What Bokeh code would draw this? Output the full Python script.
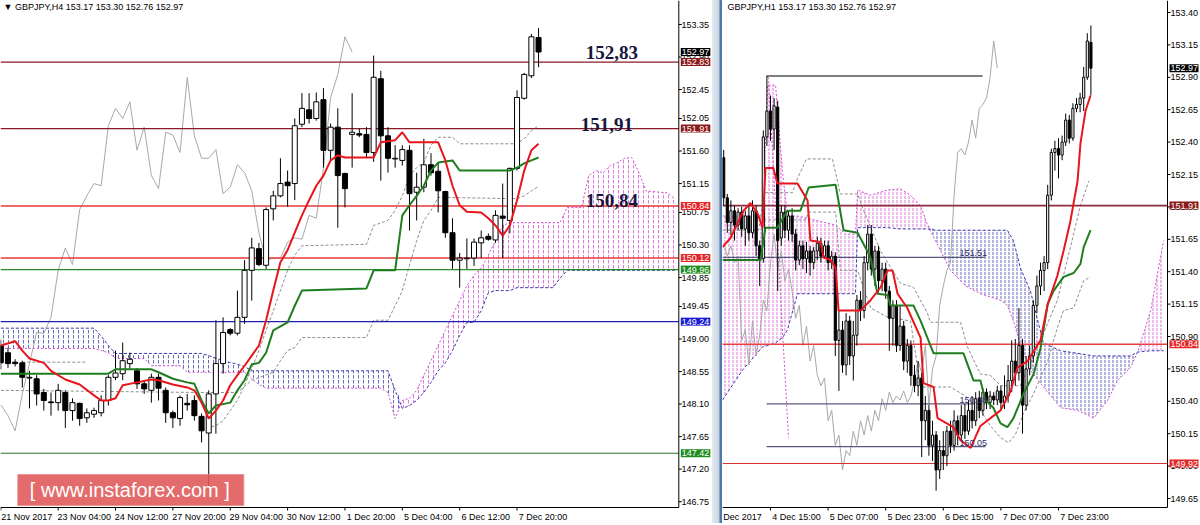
import numpy as np
from bokeh.plotting import figure
from bokeh.models import Range1d, FixedTicker, Label, BoxAnnotation, Div, ColumnDataSource, PrintfTickFormatter
from bokeh.layouts import row
from bokeh.embed import file_html
from bokeh.resources import INLINE

FONT = "Liberation Sans"
NAN = float("nan")

# ===================== LEFT: GBPJPY H4 =====================
h4_title = "\u25BC GBPJPY,H4  153.17 153.30 152.76 152.97"
h4_open = [148.91, 148.81, 148.68, 148.67, 148.46, 148.45, 148.26, 148.13, 148.12, 148.26,
           148.01, 148.11, 147.91, 147.96, 147.98, 148.15, 148.47, 148.52, 148.66, 148.56,
           148.38, 148.29, 148.47, 148.29, 147.98, 147.90, 148.11, 148.15, 147.93, 147.70,
           148.24, 148.66, 149.13, 149.08, 149.30, 149.95, 150.25, 150.02, 150.80, 150.98,
           151.17, 151.15, 151.97, 152.17, 152.05, 152.31, 151.61, 151.93, 151.29, 151.83,
           151.84, 151.83, 151.58, 152.60, 151.81, 151.49, 151.47, 151.61, 151.03, 151.10,
           151.41, 151.32, 151.04, 150.47, 150.09, 150.11, 150.12, 150.33, 150.42, 150.37,
           150.70, 150.64, 151.36, 152.33, 152.64, 153.17]
h4_high = [148.99, 148.88, 148.72, 148.70, 148.56, 148.50, 148.31, 148.26, 148.38, 148.29,
           148.18, 148.12, 148.04, 148.05, 148.22, 148.50, 148.84, 148.95, 148.81, 148.60,
           148.43, 148.52, 148.52, 148.33, 148.01, 148.22, 148.24, 148.22, 147.97, 148.29,
           149.26, 149.30, 149.15, 149.67, 150.09, 150.40, 150.33, 150.82, 151.05, 151.50,
           151.33, 152.05, 152.40, 152.40, 152.41, 152.47, 151.98, 152.19, 151.30, 152.40,
           151.91, 151.93, 152.92, 152.71, 151.93, 151.68, 151.68, 151.68, 151.30, 151.77,
           151.57, 151.44, 151.05, 150.67, 150.19, 150.39, 150.39, 150.50, 150.46, 150.78,
           151.15, 151.37, 152.44, 152.68, 153.22, 153.30]
h4_low = [148.58, 148.60, 148.62, 148.33, 148.04, 148.08, 148.01, 147.94, 148.01, 147.77,
          147.87, 147.80, 147.84, 147.91, 147.93, 148.08, 148.43, 148.43, 148.59, 148.31,
          148.24, 148.12, 148.15, 147.84, 147.77, 147.80, 148.01, 147.87, 147.57, 146.95,
          147.69, 148.52, 149.05, 149.05, 149.21, 149.53, 150.01, 149.97, 150.64, 150.96,
          150.83, 150.92, 151.93, 151.98, 152.02, 151.37, 151.47, 150.54, 150.82, 151.37,
          151.79, 151.51, 151.45, 151.19, 151.30, 151.37, 151.40, 150.50, 150.64, 151.03,
          151.26, 150.75, 150.40, 149.97, 149.71, 149.97, 150.01, 150.12, 150.36, 150.33,
          150.12, 150.46, 151.33, 152.31, 152.61, 152.76]
h4_close = [148.67, 148.66, 148.66, 148.47, 148.47, 148.24, 148.15, 148.12, 148.29, 148.01,
            148.12, 147.90, 147.98, 148.01, 148.15, 148.47, 148.53, 148.70, 148.72, 148.38,
            148.31, 148.47, 148.32, 147.98, 147.91, 148.19, 148.09, 147.94, 147.73, 148.24,
            148.66, 149.09, 149.08, 149.30, 149.95, 150.26, 150.03, 150.79, 150.98, 151.15,
            151.12, 151.95, 152.19, 152.05, 152.28, 151.61, 151.93, 151.26, 151.08, 151.86,
            151.82, 151.58, 152.62, 151.81, 151.50, 151.50, 151.62, 151.01, 151.10, 151.41,
            151.30, 151.05, 150.47, 150.09, 150.12, 150.12, 150.34, 150.40, 150.38, 150.71,
            150.67, 151.36, 152.34, 152.66, 153.18, 152.97]

h4_tenkan_x = [0, 2, 3, 4, 6, 7, 9, 11, 13, 14, 15, 16, 17, 19, 21, 22, 24, 26, 27, 28,
               29, 30, 31, 32, 33, 34, 35, 36, 37, 38, 39, 40, 41, 42, 43, 44, 45, 46, 47, 48,
               52, 53, 55, 56, 57, 61, 62, 63, 64, 65, 67, 68, 69, 70, 71, 72, 73, 74, 75]
h4_tenkan = [148.91, 148.97, 148.84, 148.73, 148.67, 148.56, 148.44, 148.37, 148.22, 148.15,
             148.15, 148.18, 148.36, 148.40, 148.44, 148.43, 148.37, 148.33, 148.29, 148.12,
             147.90, 148.01, 148.15, 148.36, 148.50, 148.63, 148.77, 148.91, 149.26, 149.67,
             150.06, 150.23, 150.47, 150.71, 150.92, 151.12, 151.26, 151.47, 151.54, 151.51,
             151.51, 151.72, 151.75, 151.86, 151.72, 151.72, 151.47, 151.12, 150.85, 150.76,
             150.75, 150.67, 150.57, 150.43, 150.57, 150.92, 151.33, 151.61, 151.70]
h4_kijun_x = [0, 15, 16, 21, 22, 24, 26, 27, 28, 29, 30, 32, 33, 34, 35, 36, 37, 38, 40, 41,
              42, 51, 52, 55, 56, 57, 58, 59, 60, 61, 63, 64, 71, 72, 73, 74, 75]
h4_kijun = [148.52, 148.52, 148.58, 148.58, 148.54, 148.45, 148.40, 148.38, 148.15, 147.97,
            148.08, 148.12, 148.29, 148.43, 148.65, 148.67, 148.81, 149.12, 149.23, 149.46,
            149.67, 149.70, 149.95, 149.95, 150.71, 150.85, 150.98, 151.12, 151.33, 151.44,
            151.47, 151.33, 151.33, 151.37, 151.43, 151.47, 151.51]
h4_cloud_x = [0, 13, 14, 15, 16, 20, 21, 25, 26, 28, 29, 31, 33, 34, 35, 36, 37, 53, 54, 55,
              56, 57, 58, 59, 60, 61, 62, 63, 64, 65, 66, 67, 68, 69, 70, 71, 72, 77, 78, 79,
              81, 82, 83, 84, 85, 86, 87, 88, 89, 90, 93, 94]
h4_span_a = [148.87, 148.87, 148.84, 148.81, 148.73, 148.73, 148.63, 148.63, 148.54, 148.54,
             148.54, 148.54, 148.54, 148.54, 148.45, 148.37, 148.32, 148.32, 148.26, 147.90,
             148.15, 148.18, 148.29, 148.50, 148.70, 148.91, 149.12, 149.33, 149.53, 149.74,
             149.88, 149.98, 150.16, 150.36, 150.57, 150.61, 150.61, 150.61, 150.61, 150.82,
             150.82, 151.26, 151.33, 151.30, 151.40, 151.44, 151.50, 151.51, 151.30, 151.05,
             151.02, 150.94]
h4_span_b = [149.15, 149.15, 149.04, 148.91, 148.80, 148.80, 148.80, 148.80, 148.80, 148.80,
             148.77, 148.70, 148.65, 148.62, 148.56, 148.56, 148.56, 148.56, 148.56, 148.29,
             148.04, 148.08, 148.15, 148.26, 148.40, 148.56, 148.67, 148.84, 149.05, 149.23,
             149.23, 149.39, 149.64, 149.67, 149.67, 149.67, 149.71, 149.71, 149.84, 149.95,
             149.95, 149.95, 149.95, 149.95, 149.95, 149.95, 149.95, 149.95, 149.95, 149.95,
             149.95, 149.95]
h4_g1_x = [3, 12, NAN, 28, 30, 31, 32, 33, 34, 35, 36, 37, 38, 39, 40, 41, 42, 51, 52, 54,
           55, 56, 57, 58, 59, 60, 61, 63, 64, 72, 73, 74, 75]
h4_g1 = [148.68, 148.68, NAN, 147.76, 147.80, 147.87, 148.01, 148.15, 148.36, 148.59,
         148.84, 149.12, 149.39, 149.67, 149.95, 150.16, 150.29, 150.31, 150.57, 150.64,
         150.78, 150.98, 151.26, 151.37, 151.44, 151.68, 151.79, 151.79, 151.70, 151.70,
         151.77, 151.88, 151.95]
h4_g2_x = [0, 28, 33, 35, 38, 39, 40, 41, 42, 51, 52, 54, 55, 56, 57, 58, 59, 60, 61, 72,
           73, 74, 75]
h4_g2 = [148.29, 148.26, 148.26, 148.43, 148.54, 148.70, 148.84, 148.88, 149.02, 149.02,
         149.26, 149.26, 149.46, 149.67, 150.02, 150.36, 150.64, 150.78, 150.96, 150.94,
         150.98, 151.05, 151.11]
h4_levels = [152.83, 151.91, 150.84, 150.12, 149.96, 149.24, 147.42]
h4_tag_prices = [152.97, 152.83, 151.91, 150.84, 150.12, 149.96, 149.24, 147.42]
h4_notes = [152.83, 151.91, 150.84]
h4_price_ticks = [153.35, 152.90, 152.45, 152.05, 151.60, 151.15, 150.75, 150.30, 149.85,
                  149.45, 149.00, 148.55, 148.10, 147.65, 147.20, 146.75]
h4_date_ticks = [0, 8, 16, 24, 32, 40, 48, 56, 64, 72]
h4_date_labels = ["21 Nov 2017", "23 Nov 04:00", "24 Nov 12:00", "27 Nov 20:00", "29 Nov 04:00",
                  "30 Nov 12:00", "1 Dec 20:00", "5 Dec 04:00", "6 Dec 12:00", "7 Dec 20:00"]

# ===================== RIGHT: GBPJPY H1 =====================
h1_title = "GBPJPY,H1  153.17 153.30 152.76 152.97"
h1_open = [152.28, 151.97, 151.78, 151.87, 151.76, 151.86, 151.73, 151.83, 151.70, 151.87,
           151.60, 151.50, 152.44, 152.64, 152.50, 152.67, 151.66, 151.86, 151.72, 151.83,
           151.69, 151.49, 151.60, 151.50, 151.56, 151.47, 151.56, 151.62, 151.52, 151.60,
           151.47, 151.52, 150.87, 150.95, 150.68, 151.02, 150.75, 150.91, 151.18, 151.10,
           151.47, 151.69, 151.42, 151.56, 151.33, 151.42, 151.25, 151.04, 151.14, 150.83,
           150.98, 150.71, 150.83, 150.60, 150.52, 150.58, 150.25, 150.33, 150.06, 150.14,
           149.87, 150.02, 149.98, 150.17, 150.06, 150.25, 150.14, 150.29, 150.17, 150.33,
           150.25, 150.42, 150.33, 150.47, 150.39, 150.44, 150.41, 150.48, 150.39, 150.44,
           150.56, 150.71, 150.62, 150.83, 150.37, 150.65, 150.75, 151.14, 151.29, 151.41,
           151.47, 151.99, 152.32, 152.35, 152.30, 152.40, 152.57, 152.43, 152.66, 152.69,
           152.74, 152.90, 153.17]
h1_high = [152.34, 152.00, 151.95, 151.91, 151.89, 151.90, 151.87, 151.91, 151.95, 151.91,
           151.64, 152.49, 152.91, 152.76, 152.74, 152.72, 151.91, 151.91, 151.87, 151.89,
           151.73, 151.64, 151.64, 151.63, 151.60, 151.59, 151.67, 151.66, 151.64, 151.64,
           151.56, 151.55, 151.10, 151.02, 151.08, 151.06, 151.02, 151.22, 151.25, 151.52,
           151.76, 151.76, 151.60, 151.60, 151.47, 151.47, 151.29, 151.18, 151.18, 151.14,
           151.02, 150.88, 150.87, 150.68, 150.71, 150.62, 150.44, 150.37, 150.25, 150.17,
           150.10, 150.17, 150.21, 150.25, 150.33, 150.29, 150.37, 150.38, 150.41, 150.44,
           150.47, 150.48, 150.50, 150.50, 150.48, 150.47, 150.52, 150.52, 150.60, 150.68,
           150.87, 150.88, 151.12, 150.88, 150.75, 150.83, 151.18, 151.37, 151.47, 151.52,
           152.07, 152.35, 152.41, 152.43, 152.45, 152.62, 152.61, 152.70, 152.74, 152.78,
           152.98, 153.24, 153.30]
h1_low = [151.91, 151.70, 151.68, 151.64, 151.72, 151.67, 151.60, 151.64, 151.66, 151.52,
          151.29, 151.47, 152.37, 152.41, 152.34, 151.25, 151.60, 151.66, 151.64, 151.63,
          151.41, 151.45, 151.42, 151.39, 151.37, 151.42, 151.49, 151.47, 151.50, 151.41,
          151.42, 150.75, 150.48, 150.62, 150.60, 150.68, 150.56, 150.83, 151.02, 151.04,
          151.41, 151.37, 151.29, 151.24, 151.25, 151.19, 150.79, 150.83, 150.78, 150.79,
          150.64, 150.62, 150.52, 150.47, 150.44, 149.97, 150.10, 149.98, 149.94, 149.71,
          149.80, 149.87, 149.90, 150.00, 150.02, 150.06, 150.10, 150.11, 150.14, 150.19,
          150.21, 150.27, 150.29, 150.34, 150.34, 150.37, 150.37, 150.33, 150.34, 150.39,
          150.47, 150.52, 150.56, 150.15, 150.33, 150.60, 150.70, 151.08, 151.22, 151.25,
          151.42, 151.95, 152.18, 152.12, 152.26, 152.37, 152.39, 152.41, 152.63, 152.63,
          152.64, 152.88, 152.76]
h1_close = [151.97, 151.78, 151.87, 151.76, 151.86, 151.73, 151.83, 151.70, 151.87, 151.60,
            151.49, 152.44, 152.64, 152.50, 152.68, 151.64, 151.86, 151.72, 151.83, 151.69,
            151.49, 151.60, 151.50, 151.56, 151.47, 151.56, 151.62, 151.52, 151.60, 151.47,
            151.52, 150.87, 150.95, 150.68, 151.02, 150.75, 150.91, 151.18, 151.10, 151.47,
            151.69, 151.42, 151.56, 151.33, 151.42, 151.25, 151.04, 151.14, 150.83, 150.98,
            150.71, 150.83, 150.60, 150.52, 150.58, 150.25, 150.33, 150.06, 150.14, 149.87,
            150.02, 149.98, 150.17, 150.06, 150.25, 150.14, 150.29, 150.17, 150.33, 150.25,
            150.42, 150.33, 150.47, 150.39, 150.44, 150.41, 150.48, 150.39, 150.44, 150.56,
            150.71, 150.62, 150.83, 150.37, 150.65, 150.75, 151.14, 151.29, 151.41, 151.47,
            151.99, 152.32, 152.35, 152.30, 152.40, 152.57, 152.43, 152.66, 152.69, 152.74,
            152.90, 153.18, 152.97]
h1_tenkan_x = [-0.33, 1.9, 5.5, 7.4, 9.4, 10.8, 11.6, 13.8, 14.9, 20.5, 23.3, 24.1, 26.9, 27.7,
               29.7, 31.1, 31.9, 38.0, 40.8, 43.6, 45.5, 46.9, 48.3, 51.0, 54.7, 55.5, 58.3,
               59.4, 63.8, 65.8, 68.6, 71.3, 76.9, 79.7, 81.6, 84.4, 88.0, 90.0, 92.7, 94.4,
               96.3, 98.3, 99.1, 100.5, 101.9]
h1_tenkan = [151.59, 151.66, 151.87, 151.93, 151.85, 151.74, 152.20, 152.20, 152.08, 152.08,
             151.95, 151.64, 151.63, 151.51, 151.49, 151.43, 151.10, 151.10, 151.18, 151.28,
             151.41, 151.41, 151.23, 151.12, 150.89, 150.54, 150.51, 150.27, 150.20, 150.10,
             150.04, 150.21, 150.33, 150.48, 150.66, 150.71, 150.87, 151.15, 151.37, 151.56,
             151.79, 152.10, 152.39, 152.64, 152.76]
h1_kijun_x = [-0.33, 10.2, 11.6, 14.9, 17.7, 21.3, 23.6, 31.1, 33.3, 37.2, 40.8, 42.7, 45.5,
              46.3, 52.7, 54.7, 56.6, 58.3, 66.6, 69.4, 71.3, 72.7, 74.9, 76.9, 78.8, 80.5,
              83.3, 86.1, 88.0, 90.0, 91.6, 94.4, 97.2, 99.1, 100.0, 101.9]
h1_kijun = [151.49, 151.49, 151.74, 151.74, 151.87, 151.87, 152.05, 152.07, 151.72, 151.70,
            151.51, 151.23, 151.22, 151.14, 151.14, 151.02, 150.89, 150.77, 150.77, 150.56,
            150.56, 150.41, 150.35, 150.23, 150.20, 150.27, 150.46, 150.61, 150.81, 151.15,
            151.25, 151.36, 151.39, 151.46, 151.59, 151.72]
h1_cloud_x = [-0.33, 5.2, 10.8, 12.2, 14.4, 16.3, 17.7, 20.5, 31.1, 33.8, 36.6, 37.2, 40.8,
              45.5, 49.1, 51.9, 54.7, 56.6, 58.8, 63.0, 67.2, 71.3, 76.9, 78.8, 80.5, 82.4,
              85.2, 88.8, 93.6, 98.3, 102.8, 106.7, 109.4, 113.0, 115.0, 118.6, 122.2]
h1_span_a = [151.83, 151.83, 151.83, 152.84, 152.84, 152.18, 151.83, 151.83, 151.76, 151.69,
             151.69, 152.03, 151.99, 152.03, 152.04, 151.99, 151.91, 151.76, 151.64, 151.41,
             151.29, 151.23, 151.18, 151.14, 151.02, 150.83, 150.64, 150.51, 150.35, 150.33,
             150.27, 150.41, 150.56, 150.66, 150.78, 151.10, 151.64]
h1_span_b = [150.41, 150.64, 150.82, 150.83, 150.85, 150.89, 150.95, 151.23, 151.23, 151.23,
             151.23, 151.74, 151.74, 151.74, 151.73, 151.73, 151.73, 151.73, 151.72, 151.72,
             151.72, 151.72, 151.72, 151.72, 151.64, 151.43, 151.25, 150.85, 150.79, 150.77,
             150.75, 150.75, 150.75, 150.75, 150.78, 150.79, 150.79]
h1_g1_x = [-0.33, 9.7, 11.3, 19.1, 20.5, 23.0, 30.2, 32.4, 37.2, 38.6, 43.6, 49.1, 52.7,
           56.6, 57.4, 65.8, 67.7, 71.3, 74.1, 76.9, 82.4, 88.0, 92.7, 97.2, 99.1, 101.4]
h1_g1 = [151.72, 151.72, 152.01, 152.01, 152.12, 152.27, 152.27, 152.00, 152.00, 151.89,
         151.56, 151.31, 151.28, 151.08, 151.01, 151.01, 150.82, 150.61, 150.60, 150.52,
         150.52, 150.87, 151.18, 151.69, 151.91, 152.10]
h1_g2_x = [11.0, 22.7, 23.6, 31.1, 32.4, 37.2, 40.8, 45.5, 51.9, 54.7, 63.0, 67.2, 71.3,
           74.1, 76.9, 79.1, 81.0, 83.3, 86.1, 90.0, 92.7, 94.4, 97.2, 100.0, 101.9]
h1_g2 = [151.80, 151.80, 151.86, 151.86, 151.41, 151.41, 151.12, 151.05, 151.02, 150.51,
         150.51, 150.44, 150.33, 150.21, 150.12, 150.08, 150.14, 150.31, 150.46, 150.71,
         150.97, 151.10, 151.12, 151.33, 151.36]
h1_diag_x = [12.4, 18.0]
h1_diag = [152.90, 150.12]
h1_levels = [151.91, 150.84, 149.92]
h1_marks = [152.91, 151.51, 150.38, 150.05]
h1_marks_x0 = [11.9, -0.4, 11.9, 11.9]
h1_marks_x1 = [71.9, 72.7, 72.7, 72.7]
h1_tag_prices = [152.97, 151.91, 150.84, 149.92]
h1_price_ticks = [153.40, 153.15, 152.90, 152.65, 152.40, 152.15, 151.90, 151.65, 151.40,
                  151.15, 150.90, 150.65, 150.40, 150.15, 149.90, 149.65]
h1_date_ticks = [-2, 13, 29, 45, 61, 77, 93]
h1_date_labels = ["Dec 2017", "4 Dec 15:00", "5 Dec 07:00", "5 Dec 23:00", "6 Dec 15:00",
                  "7 Dec 07:00", "7 Dec 23:00"]

# ===================== styles =====================
RED = "#e8161c"
GREEN = "#1f7d1f"
CHIKOU = "#a8a8a8"
GRAYDASH = "#8c8c8c"
PINK = "#d14ed1"
NAVY = "#3a3aae"
MAROON = "#8b1a26"
LEVEL_COLORS_H4 = [MAROON, MAROON, "#e83a3a", "#e83a3a", "#2a8a2a", "#2020b0", "#2f6a2f"]
LEVEL_WIDTH_H4 = [1.2, 1.2, 1.6, 1.6, 1.1, 1.1, 1.0]
TAG_COLORS_H4 = ["#000000", "#8b1a1a", "#8b1a1a", "#e52626", "#e52626", "#1e8c1e", "#1a1ad0", "#1e8c1e"]
LEVEL_COLORS_H1 = ["#8b2d3c", "#e64040", "#d83030"]
LEVEL_WIDTH_H1 = [1.6, 1.6, 1.1]
TAG_COLORS_H1 = ["#000000", "#8b1a1a", "#e52626", "#e52626"]
MARK_COLORS = ["#555555", "#5a5a80", "#5a5a80", "#5a5a80"]

FH = 511          # frame height (px); plot area top at page y=0
AXIS_Y_PX = 507   # MT4 time-axis line position (px from top)


def make_fig(xr, yr, fw, ticks_y, ticks_x, labels_x, standoff):
    p = figure(x_range=xr, y_range=yr, frame_width=fw, frame_height=FH,
               output_backend="svg", toolbar_location=None, y_axis_location="right",
               min_border=0, min_border_left=0, min_border_right=0, min_border_top=0,
               min_border_bottom=0, outline_line_color=None,
               background_fill_color="white", border_fill_color="white")
    p.grid.visible = False
    for ax in (p.xaxis[0], p.yaxis[0]):
        ax.axis_line_color = None
        ax.major_tick_line_color = None
        ax.major_tick_in = 0
        ax.major_tick_out = 0
        ax.minor_tick_line_color = None
        ax.major_label_text_font = FONT
        ax.major_label_text_font_size = "9px"
        ax.major_label_text_color = "black"
    p.xaxis.major_label_standoff = 0
    p.yaxis.major_label_standoff = standoff
    p.yaxis.ticker = FixedTicker(ticks=ticks_y)
    p.yaxis.formatter = PrintfTickFormatter(format="%.2f")
    p.xaxis.ticker = FixedTicker(ticks=ticks_x)
    p.xaxis.major_label_overrides = {t: s for t, s in zip(ticks_x, labels_x)}
    return p


def draw_frame(p, x0, xaxis, ybot, ytick, ytop, ticks_y, ticks_x, px):
    # price-scale axis line, time axis line and their small tick marks (MT4 style)
    p.segment(x0=[xaxis], y0=[ybot], x1=[xaxis], y1=[ytop], line_color="black", line_width=1)
    p.segment(x0=[x0], y0=[ybot], x1=[xaxis], y1=[ybot], line_color="black", line_width=1)
    p.segment(x0=[xaxis] * len(ticks_y), y0=ticks_y, x1=[xaxis + 3 / px] * len(ticks_y),
              y1=ticks_y, line_color="black", line_width=1)
    p.segment(x0=ticks_x, y0=[ybot] * len(ticks_x), x1=ticks_x, y1=[ytick] * len(ticks_x),
              line_color="black", line_width=1)


def draw_cloud(p, xs, a, b, hs):
    xs = np.array(xs, dtype=float)
    a = np.array(a)
    b = np.array(b)
    hi = np.maximum(a, b)
    p.varea(x=xs, y1=b, y2=hi, fill_color=None, fill_alpha=0, hatch_pattern=":",
            hatch_color=PINK, hatch_scale=hs, hatch_weight=1, hatch_alpha=0.75)
    p.varea(x=xs, y1=a, y2=hi, fill_color=None, fill_alpha=0, hatch_pattern=":",
            hatch_color=NAVY, hatch_scale=hs, hatch_weight=1, hatch_alpha=0.75)
    p.line(xs, a, line_color=PINK, line_dash="2 2", line_width=1)
    p.line(xs, b, line_color=NAVY, line_dash="3 2", line_width=1)


def draw_candles(p, o, h, l, c, w):
    o, h, l, c = map(np.array, (o, h, l, c))
    idx = np.arange(len(o))
    top = np.maximum(o, c)
    bot = np.minimum(o, c)
    bull = c >= o
    p.segment(x0=idx, y0=h, x1=idx, y1=l, line_color="black", line_width=1)
    src_up = ColumnDataSource(dict(x=idx[bull], t=top[bull], b=bot[bull]))
    src_dn = ColumnDataSource(dict(x=idx[~bull], t=top[~bull], b=bot[~bull]))
    p.vbar(x="x", width=w, top="t", bottom="b", source=src_up,
           fill_color="white", line_color="black", line_width=1)
    p.vbar(x="x", width=w, top="t", bottom="b", source=src_dn,
           fill_color="black", line_color="black", line_width=1)


def tags(p, xaxis, prices, colors):
    for v, col in zip(prices, colors):
        p.add_layout(Label(x=xaxis, y=v, x_offset=2, text=f"{v:.2f}", text_font=FONT,
                           text_font_size="9px", text_color="white", text_baseline="middle",
                           text_align="left", background_fill_color=col,
                           background_fill_alpha=1.0, padding=1))


def hlevels(p, x0, x1, levels, colors, widths):
    p.segment(x0=[x0] * len(levels), y0=levels, x1=[x1] * len(levels), y1=levels,
              line_color=colors, line_width=widths)


# ---------- left figure (page x 0..712) ----------
L_PX, L_SC = 7.17, 72.3
lx0 = -0.3 / L_PX
lx1 = lx0 + 712 / L_PX
l_axis = 678 / L_PX
ly1 = 153.35 + 24 / L_SC
ly0 = 153.35 - (FH - 24) / L_SC
l_axis_y = 153.35 - (AXIS_Y_PX - 24) / L_SC
l_tick_y = 153.35 - (AXIS_Y_PX + 3 - 24) / L_SC
lab_ticks_l = [round(t + 26 / L_PX, 2) for t in h4_date_ticks]
pl = make_fig(Range1d(lx0, lx1), Range1d(ly0, ly1), 712, h4_price_ticks,
              lab_ticks_l, h4_date_labels, -31)

draw_cloud(pl, h4_cloud_x, h4_span_a, h4_span_b, 5)
pl.line(h4_g1_x, h4_g1, line_color=GRAYDASH, line_dash="3 2", line_width=1)
pl.line(h4_g2_x, h4_g2, line_color=GRAYDASH, line_dash="3 2", line_width=1)
n4 = len(h4_close)
pl.line(np.arange(n4 - 26), h4_close[26:], line_color=CHIKOU, line_width=1)
hlevels(pl, lx0, l_axis, h4_levels, LEVEL_COLORS_H4, LEVEL_WIDTH_H4)
draw_candles(pl, h4_open, h4_high, h4_low, h4_close, 0.7)
pl.line(h4_kijun_x, h4_kijun, line_color=GREEN, line_width=2)
pl.line(h4_tenkan_x, h4_tenkan, line_color=RED, line_width=2)
draw_frame(pl, lx0, l_axis, l_axis_y, l_tick_y, ly1, h4_price_ticks, h4_date_ticks, L_PX)

note_x = [81.6, 80.9, 81.6]
note_off = [10, 4, 5]
for v, nx, off in zip(h4_notes, note_x, note_off):
    pl.add_layout(Label(x=nx, y=v, y_offset=off, text=f"{v:.2f}".replace(".", ","),
                        text_font="Liberation Serif", text_font_style="bold",
                        text_font_size="19px", text_color="#16163c",
                        text_baseline="alphabetic", text_align="left"))

pl.add_layout(BoxAnnotation(left=17 / L_PX, right=243 / L_PX, top=153.35 - 450 / L_SC,
                            bottom=153.35 - 481 / L_SC, fill_color="#e05656", fill_alpha=0.88,
                            line_color="#e88a8a", line_alpha=0.8))
pl.add_layout(Label(x=29 / L_PX, y=153.35 - 465 / L_SC, text="[  www.instaforex.com  ]",
                    text_font=FONT, text_font_size="20px", text_color="white",
                    text_baseline="middle", text_align="left"))
pl.add_layout(Label(x=lx0, y=ly1, x_offset=3, y_offset=-1, text=h4_title, text_font=FONT,
                    text_font_size="9px", text_color="black", text_baseline="top"))
tags(pl, l_axis, h4_tag_prices, TAG_COLORS_H4)

# ---------- right figure (page x 722..1198) ----------
R_PX, R_SC = 3.6, 129.6
rx0 = (722 - 723.2) / R_PX
rx1 = rx0 + 476 / R_PX
r_axis = (1167 - 723.2) / R_PX
ry1 = 153.40 + 12 / R_SC
ry0 = 153.40 - (FH - 12) / R_SC
r_axis_y = 153.40 - (AXIS_Y_PX - 12) / R_SC
r_tick_y = 153.40 - (AXIS_Y_PX + 3 - 12) / R_SC
lab_ticks_r = [round(t + 26 / R_PX, 2) for t in h1_date_ticks]
pr = make_fig(Range1d(rx0, rx1), Range1d(ry0, ry1), 476, h1_price_ticks,
              lab_ticks_r, h1_date_labels, -28)

draw_cloud(pr, h1_cloud_x, h1_span_a, h1_span_b, 4)
pr.line(h1_g1_x, h1_g1, line_color=GRAYDASH, line_dash="3 2", line_width=1)
pr.line(h1_g2_x, h1_g2, line_color=GRAYDASH, line_dash="3 2", line_width=1)
pr.line(h1_diag_x, h1_diag, line_color=PINK, line_dash="2 2", line_width=1)
n1 = len(h1_close)
pr.line(np.arange(n1 - 26), h1_close[26:], line_color=CHIKOU, line_width=1)
hlevels(pr, rx0, r_axis, h1_levels, LEVEL_COLORS_H1, LEVEL_WIDTH_H1)
pr.segment(x0=h1_marks_x0, y0=h1_marks, x1=h1_marks_x1, y1=h1_marks,
           line_color=MARK_COLORS, line_width=[1.6, 1.2, 1.2, 1.2])
for v in h1_marks[1:]:
    pr.add_layout(Label(x=65.5, y=v, y_offset=1, text=f"{v:.2f}", text_font=FONT,
                        text_font_size="9px", text_color="#2d2d6a", text_baseline="bottom"))
draw_candles(pr, h1_open, h1_high, h1_low, h1_close, 0.6)
pr.line(h1_kijun_x, h1_kijun, line_color=GREEN, line_width=2)
pr.line(h1_tenkan_x, h1_tenkan, line_color=RED, line_width=2)
draw_frame(pr, rx0, r_axis, r_axis_y, r_tick_y, ry1, h1_price_ticks, h1_date_ticks[1:], R_PX)
pr.add_layout(Label(x=rx0, y=ry1, x_offset=5, y_offset=-1, text=h1_title, text_font=FONT,
                    text_font_size="9px", text_color="black", text_baseline="top"))
tags(pr, r_axis, h1_tag_prices, TAG_COLORS_H1)

sep = Div(width=10, height=FH + 12, margin=0,
          styles={"background": "linear-gradient(to right, #e4eaf1 0%, #c8d4e2 70%, #4f78ad 80%, #4f78ad 100%)"})

layout = row(pl, sep, pr, margin=0)
open("out.html", "w").write(file_html(layout, INLINE))
